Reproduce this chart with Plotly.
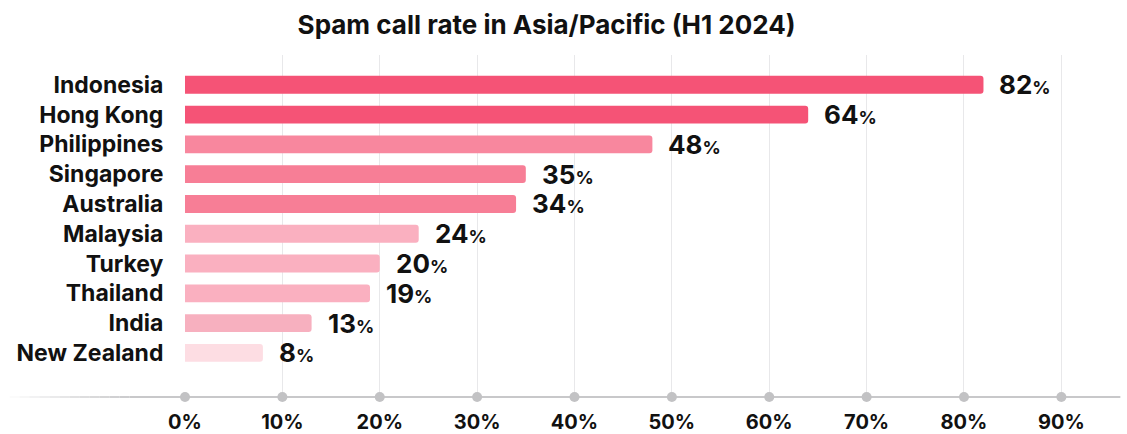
import plotly.graph_objects as go

countries = ["Indonesia", "Hong Kong", "Philippines", "Singapore", "Australia",
             "Malaysia", "Turkey", "Thailand", "India", "New Zealand"]
spam_rate = [82, 64, 48, 35, 34, 24, 20, 19, 13, 8]
bar_colors = ["#F55376", "#F55376", "#F8879E", "#F77E96", "#F77E96",
              "#FAB0C0", "#FAB0C0", "#FAB0C0", "#F7B0BF", "#FDDDE3"]
x_ticks = [0, 10, 20, 30, 40, 50, 60, 70, 80, 90]
x_ticktext = [f"{t}%" for t in x_ticks]

FONT = "Inter"
rows = list(range(len(countries)))
y_bottom = len(countries) + 0.48

fig = go.Figure()
fig.add_trace(go.Bar(
    x=spam_rate, y=rows, orientation="h",
    marker=dict(color=bar_colors, cornerradius=3, line=dict(width=0)),
    width=0.6, hoverinfo="skip", showlegend=False))

# grey dots on the axis at each tick
fig.add_trace(go.Scatter(
    x=x_ticks, y=[y_bottom] * len(x_ticks), mode="markers",
    marker=dict(color="#c2c2c4", size=10), cliponaxis=False,
    hoverinfo="skip", showlegend=False))

# value labels: big number + small %
for i, v in enumerate(spam_rate):
    fig.add_annotation(
        x=v, y=i, xref="x", yref="y", showarrow=False,
        xanchor="left", yanchor="middle", xshift=14,
        text=f"<b>{v}</b><span style='font-size:18px'><b>%</b></span>",
        font=dict(family=FONT, size=26, color="#111111"))

# axis line with a fade on the left
shapes = [dict(type="line", xref="paper", yref="paper", x0=-0.06, x1=1.009,
               y0=0, y1=0, line=dict(color="#c8c8ca", width=2), layer="below")]
n_fade = 12
for k in range(n_fade):
    a = (k + 1) / (n_fade + 1)
    shapes.append(dict(type="line", xref="paper", yref="paper",
                       x0=-0.189 + k * 0.129 / n_fade, x1=-0.189 + (k + 1) * 0.129 / n_fade,
                       y0=0, y1=0, line=dict(color=f"rgba(200,200,202,{a:.2f})", width=2),
                       layer="below"))

fig.update_layout(
    width=1127, height=434,
    paper_bgcolor="white", plot_bgcolor="white",
    margin=dict(l=185, r=15, t=55, b=37, autoexpand=False),
    font=dict(family=FONT, color="#111111"),
    title=dict(text="<b>Spam call rate in Asia/Pacific (H1 2024)</b>",
               x=0.485, xanchor="center", y=0.942, yanchor="middle",
               font=dict(family=FONT, size=26, color="#111111")),
    shapes=shapes,
)
fig.update_xaxes(
    range=[0, 95.2], tickvals=x_ticks, ticktext=x_ticktext, automargin=False,
    showgrid=True, gridcolor="#e8e8ea", gridwidth=1, zeroline=False,
    showline=False, ticks="outside", ticklen=7, tickcolor="rgba(0,0,0,0)",
    tickfont=dict(family=FONT, size=20, color="#111111", weight="bold"))
fig.update_yaxes(
    range=[y_bottom, -1.0], tickvals=rows, ticktext=countries, automargin=False,
    showgrid=False, zeroline=False, showline=False,
    ticks="outside", ticklen=16, tickcolor="rgba(0,0,0,0)",
    tickfont=dict(family=FONT, size=23, color="#111111", weight="bold"))

# drop the default page margin so the figure sits at the window's corner
fig.write_html("out.html", config={"displayModeBar": False},
               post_script="document.body.style.margin='0';")
